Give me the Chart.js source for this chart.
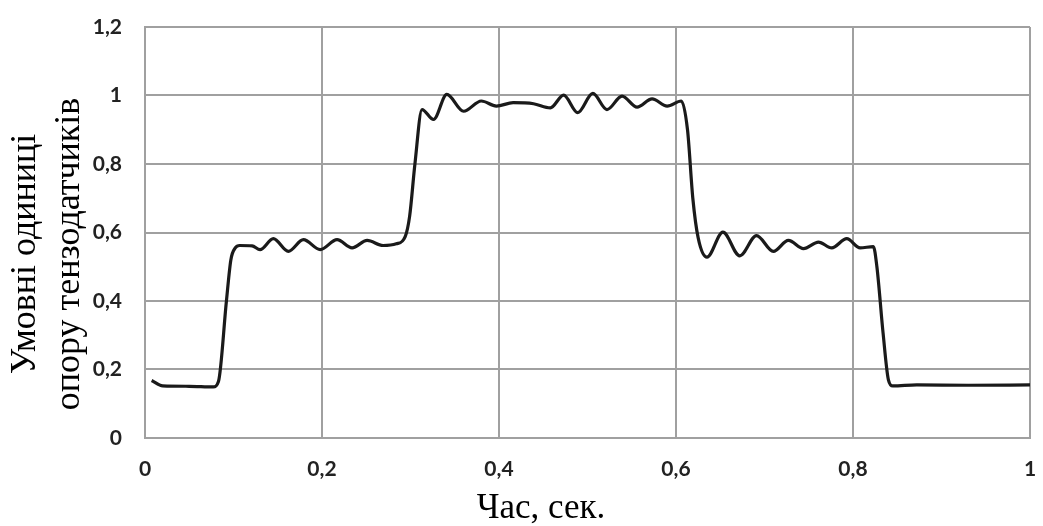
<!DOCTYPE html>
<html>
<head>
<meta charset="utf-8">
<script src="https://cdn.jsdelivr.net/npm/chart.js@4"></script>
<style>
html,body{margin:0;padding:0;background:#fff;}
#wrap{width:1043px;height:526px;position:relative;}
</style>
</head>
<body>
<div id="wrap"><canvas id="c" width="1043" height="526"></canvas></div>
<script>
const timeSec = [0.0075, 0.020, 0.050, 0.077, 0.083, 0.092, 0.097, 0.102, 0.107, 0.121, 0.130, 0.145, 0.162, 0.179, 0.198, 0.217, 0.234, 0.251, 0.269, 0.284, 0.294, 0.299, 0.305, 0.313, 0.326, 0.341, 0.360, 0.380, 0.397, 0.416, 0.439, 0.458, 0.473, 0.489, 0.506, 0.522, 0.539, 0.556, 0.573, 0.590, 0.606, 0.613, 0.619, 0.625, 0.635, 0.653, 0.672, 0.691, 0.710, 0.727, 0.744, 0.761, 0.776, 0.793, 0.808, 0.823, 0.827, 0.834, 0.840, 0.845, 0.872, 0.930, 1.000];
const resistance = [0.168, 0.152, 0.151, 0.149, 0.165, 0.40, 0.52, 0.555, 0.562, 0.561, 0.550, 0.582, 0.545, 0.579, 0.550, 0.579, 0.555, 0.577, 0.562, 0.567, 0.588, 0.647, 0.800, 0.959, 0.930, 1.003, 0.954, 0.984, 0.969, 0.979, 0.976, 0.964, 1.001, 0.950, 1.006, 0.959, 0.998, 0.966, 0.990, 0.969, 0.984, 0.900, 0.700, 0.585, 0.528, 0.601, 0.532, 0.591, 0.545, 0.577, 0.553, 0.572, 0.555, 0.582, 0.555, 0.559, 0.500, 0.306, 0.170, 0.152, 0.155, 0.154, 0.155];
const xTicks = [0, 0.2, 0.4, 0.6, 0.8, 1];
const yTicks = [0, 0.2, 0.4, 0.6, 0.8, 1, 1.2];
const xTitle = "Час, сек.";
const yTitleLines = ["Умовні одиниці", "опору тензодатчиків"];

const fmt = v => String(Math.round(v * 10) / 10).replace('.', ',');

const titlePlugin = {
  id: 'titles',
  afterDraw(chart) {
    const ctx = chart.ctx;
    ctx.save();
    ctx.fillStyle = '#000';
    ctx.font = '35px "Liberation Serif"';
    ctx.textAlign = 'center';
    ctx.textBaseline = 'middle';
    ctx.fillText(xTitle, 541, 509);
    ctx.font = '36px "Liberation Serif"';
    const xs = [26, 70];
    yTitleLines.forEach((t, i) => {
      ctx.save();
      ctx.translate(xs[i], 254);
      ctx.rotate(-Math.PI / 2);
      ctx.fillText(t, 0, 0);
      ctx.restore();
    });
    ctx.restore();
  }
};

new Chart(document.getElementById('c'), {
  type: 'scatter',
  data: {
    datasets: [{
      data: timeSec.map((x, i) => ({x, y: resistance[i]})),
      showLine: true,
      borderColor: '#1a1a1a',
      borderWidth: 3.2,
      pointRadius: 0,
      cubicInterpolationMode: 'monotone',
      fill: false
    }]
  },
  options: {
    responsive: false,
    animation: false,
    layout: {padding: {top: 27, right: 13, left: 0, bottom: 0}},
    plugins: {legend: {display: false}, tooltip: {enabled: false}},
    scales: {
      x: {
        type: 'linear', min: 0, max: 1,
        afterBuildTicks: s => { s.ticks = xTicks.map(v => ({value: v})); },
        afterFit: s => { s.height = 88; s.paddingLeft = 0; s.paddingRight = 0; },
        grid: {color: '#a0a0a0', lineWidth: 2, drawTicks: false},
        border: {color: '#a0a0a0', width: 2},
        ticks: {padding: 19, color: '#222', font: {family: 'Lato', weight: 'bold', size: 21}, callback: v => fmt(v)}
      },
      y: {
        type: 'linear', min: 0, max: 1.2,
        afterBuildTicks: s => { s.ticks = yTicks.map(v => ({value: v})); },
        afterFit: s => { s.width = 145; s.paddingTop = 0; s.paddingBottom = 0; },
        grid: {color: '#a0a0a0', lineWidth: 2, drawTicks: false},
        border: {color: '#a0a0a0', width: 2},
        ticks: {padding: 23, color: '#222', font: {family: 'Lato', weight: 'bold', size: 21}, callback: v => fmt(v)}
      }
    }
  },
  plugins: [titlePlugin]
});
</script>
</body>
</html>
